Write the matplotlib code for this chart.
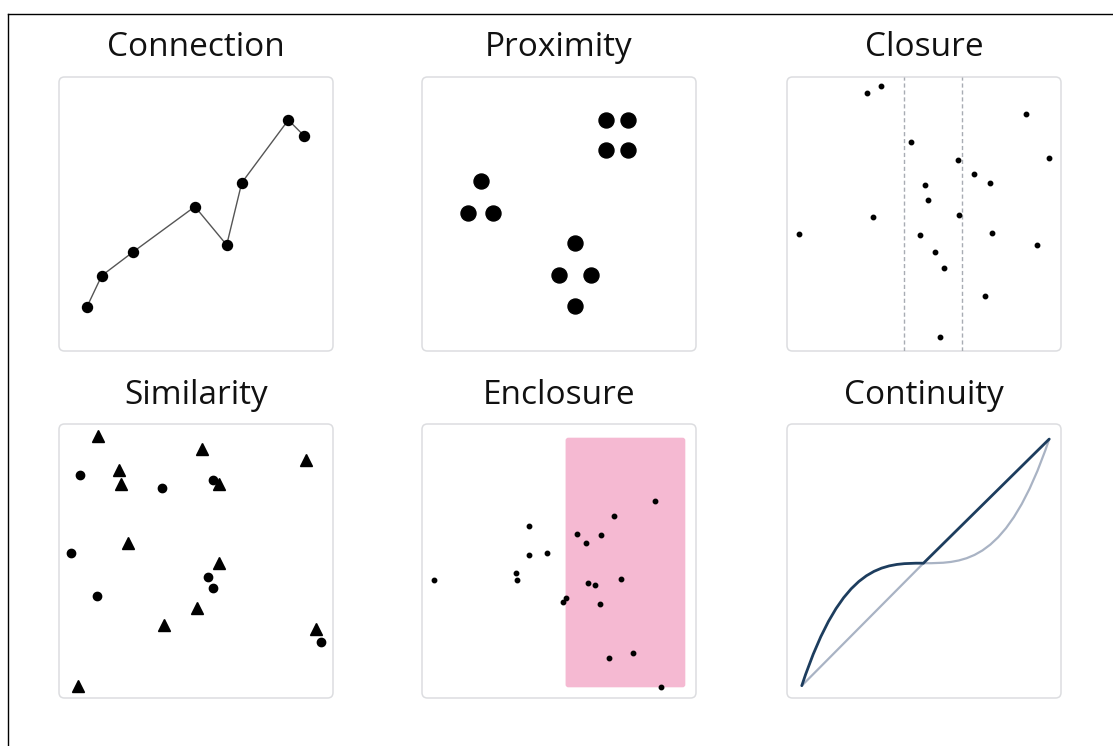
import matplotlib
matplotlib.use("Agg")
import matplotlib.pyplot as plt
from matplotlib.patches import FancyBboxPatch, PathPatch
from matplotlib.path import Path
from matplotlib.lines import Line2D

W, H = 1113, 746

# ---- data (0-100 panel coordinates) ----
titles = ["Connection", "Proximity", "Closure", "Similarity", "Enclosure", "Continuity"]

conn_x = [10.1, 15.6, 27.1, 49.6, 61.2, 66.7, 83.7, 89.5]
conn_y = [15.9, 27.5, 36.2, 52.7, 38.7, 61.4, 84.3, 78.5]

prox_x = [67.3, 75.1, 67.3, 75.1, 21.5, 16.7, 25.9, 55.7, 50.1, 61.5, 55.7]
prox_y = [84.3, 84.3, 73.4, 73.4, 62.2, 50.5, 50.5, 39.3, 27.8, 27.8, 16.3]

clos_x = [29.3, 34.4, 87.1, 45.1, 95.7, 62.3, 68.4, 74.1, 50.4, 51.6,
          31.3, 62.7, 4.4, 48.4, 74.8, 91.1, 54.1, 57.3, 72.2, 56.0]
clos_y = [94.0, 96.7, 86.5, 76.4, 70.6, 69.7, 64.5, 61.4, 60.6, 55.0,
          49.0, 49.7, 42.6, 42.5, 43.1, 38.8, 36.1, 30.2, 20.1, 5.2]
clos_guides = [42.7, 63.9]

sim_tri_x = [14.1, 52.1, 90.0, 21.9, 22.5, 58.4, 25.2, 58.4, 50.4, 38.4, 93.9, 6.9]
sim_tri_y = [95.6, 90.9, 86.9, 83.2, 78.0, 78.0, 56.4, 49.1, 32.7, 26.5, 25.3, 4.5]
sim_dot_x = [7.6, 37.6, 56.2, 4.3, 54.5, 56.2, 13.9, 95.5]
sim_dot_y = [81.3, 76.6, 79.6, 52.9, 44.3, 40.3, 37.2, 20.3]

encl_x = [4.5, 38.9, 39.1, 45.7, 34.2, 34.5, 51.4, 52.5, 56.7, 59.7,
          65.3, 70.1, 85.2, 60.7, 63.0, 72.8, 65.1, 68.4, 76.9, 87.2]
encl_y = [43.0, 62.8, 52.1, 52.8, 45.7, 43.2, 35.2, 36.5, 59.9, 56.7,
          59.6, 66.5, 71.9, 42.1, 41.1, 43.3, 34.3, 14.6, 16.4, 3.9]
encl_box = (52.4, 3.9, 96.1, 95.0)  # x0, y0, x1, y1

# continuity: bezier control points
cont_dark = [(5.4, 4.5), (20.2, 49.2), (35.0, 49.2), (49.8, 49.2), (95.7, 94.5)]
cont_light = [(5.4, 4.5), (49.8, 49.2), (65.1, 49.2), (80.4, 49.2), (95.7, 94.5)]

# panel boxes in pixels: left, top, size
boxes = [(59, 77), (422, 77), (787, 77), (59, 424), (422, 424), (787, 424)]
SIZE = 274
title_y = [48, 48, 48, 396, 396, 396]

plt.rcParams['font.family'] = ['Open Sans', 'DejaVu Sans']
fig = plt.figure(figsize=(W / 100, H / 100), dpi=100)

# screenshot frame (left and top edge)
fig.add_artist(Line2D([8 / W, 8 / W], [0, 1 - 14 / H], color="black", lw=1))
fig.add_artist(Line2D([8 / W, 1], [1 - 14 / H, 1 - 14 / H], color="black", lw=1))

axes = []
for (l, t), ty, name in zip(boxes, title_y, titles):
    ax = fig.add_axes([l / W, 1 - (t + SIZE) / H, SIZE / W, SIZE / H])
    ax.set_xlim(0, 100)
    ax.set_ylim(0, 100)
    ax.axis("off")
    ax.add_patch(FancyBboxPatch((0, 0), 1, 1, boxstyle="round,pad=0,rounding_size=0.02",
                                transform=ax.transAxes, fc="white", ec="#dcdde0", lw=1.1,
                                clip_on=False, zorder=0))
    fig.text((l + SIZE / 2) / W, 1 - ty / H, name, ha="center", va="center",
             fontsize=24, fontweight="medium", color="#111111")
    axes.append(ax)

ax = axes[0]
ax.plot(conn_x, conn_y, color="#555555", lw=1.0, marker="o", ms=7.2,
        mfc="black", mec="black", zorder=3)

ax = axes[1]
ax.plot(prox_x, prox_y, "o", color="black", ms=10.8, zorder=3)

ax = axes[2]
for gx in clos_guides:
    ax.axvline(gx, color="#a8acb3", lw=1, ls=(0, (3, 2)), zorder=1)
ax.plot(clos_x, clos_y, "o", color="black", ms=3.2, zorder=3)

ax = axes[3]
ax.plot(sim_tri_x, sim_tri_y, "^", color="black", ms=8.5, zorder=3)
ax.plot(sim_dot_x, sim_dot_y, "o", color="black", ms=6.0, zorder=3)

ax = axes[4]
x0, y0, x1, y1 = encl_box
ax.add_patch(FancyBboxPatch((x0, y0), x1 - x0, y1 - y0, boxstyle="round,pad=0,rounding_size=1",
                            fc="#f5b9d2", ec="none", zorder=1))
ax.plot(encl_x, encl_y, "o", color="black", ms=3.2, zorder=3, clip_on=False)

ax = axes[5]
light_path = Path(cont_light, [Path.MOVETO, Path.LINETO, Path.CURVE4, Path.CURVE4, Path.CURVE4])
dark_path = Path(cont_dark, [Path.MOVETO, Path.CURVE4, Path.CURVE4, Path.CURVE4, Path.LINETO])
ax.add_patch(PathPatch(light_path, fc="none", ec="#a9b3c4", lw=1.6, zorder=2, capstyle="round"))
ax.add_patch(PathPatch(dark_path, fc="none", ec="#1d3d5e", lw=2.0, zorder=3, capstyle="round"))

fig.savefig("out.png", dpi=100)
